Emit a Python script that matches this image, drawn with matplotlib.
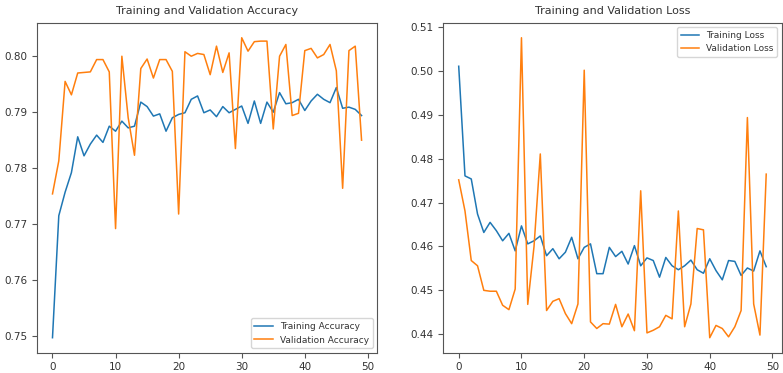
import matplotlib
matplotlib.use("Agg")
import matplotlib.pyplot as plt
import numpy as np

epochs = np.arange(50)

acc = [0.7497, 0.7715, 0.7757, 0.7792, 0.7856, 0.7822, 0.7843, 0.7859, 0.7846, 0.7875,
       0.7866, 0.7884, 0.7872, 0.7875, 0.7918, 0.7910, 0.7893, 0.7897, 0.7866, 0.7890,
       0.7896, 0.7899, 0.7923, 0.7929, 0.7899, 0.7904, 0.7892, 0.7910, 0.7899, 0.7905,
       0.7911, 0.7880, 0.7920, 0.7880, 0.7918, 0.7900, 0.7935, 0.7915, 0.7917, 0.7923,
       0.7903, 0.7920, 0.7932, 0.7923, 0.7917, 0.7944, 0.7907, 0.7909, 0.7905, 0.7894]

val_acc = [0.7754, 0.7813, 0.7955, 0.7931, 0.7970, 0.7971, 0.7972, 0.7994, 0.7994, 0.7972,
           0.7692, 0.8000, 0.7890, 0.7823, 0.7978, 0.7995, 0.7961, 0.7994, 0.7994, 0.7973,
           0.7718, 0.8008, 0.8000, 0.8005, 0.8003, 0.7967, 0.8018, 0.7971, 0.8006, 0.7835,
           0.8033, 0.8009, 0.8026, 0.8027, 0.8027, 0.7870, 0.8000, 0.8021, 0.7894, 0.7898,
           0.8010, 0.8014, 0.7997, 0.8003, 0.8021, 0.7974, 0.7764, 0.8010, 0.8018, 0.7850]

loss = [0.5011, 0.4761, 0.4754, 0.4674, 0.4632, 0.4655, 0.4636, 0.4613, 0.4630, 0.4590,
        0.4647, 0.4606, 0.4613, 0.4624, 0.4579, 0.4595, 0.4572, 0.4587, 0.4621, 0.4572,
        0.4598, 0.4606, 0.4538, 0.4538, 0.4598, 0.4577, 0.4589, 0.4560, 0.4602, 0.4556,
        0.4574, 0.4568, 0.4530, 0.4575, 0.4556, 0.4547, 0.4556, 0.4569, 0.4547, 0.4539,
        0.4572, 0.4545, 0.4524, 0.4568, 0.4566, 0.4534, 0.4551, 0.4544, 0.4590, 0.4554]

val_loss = [0.4752, 0.4681, 0.4568, 0.4556, 0.4500, 0.4498, 0.4498, 0.4466, 0.4456, 0.4503,
            0.5076, 0.4468, 0.4600, 0.4811, 0.4454, 0.4475, 0.4481, 0.4447, 0.4424, 0.4469,
            0.5002, 0.4428, 0.4413, 0.4424, 0.4423, 0.4468, 0.4417, 0.4446, 0.4408, 0.4727,
            0.4403, 0.4409, 0.4417, 0.4443, 0.4435, 0.4681, 0.4417, 0.4469, 0.4641, 0.4638,
            0.4392, 0.4420, 0.4413, 0.4394, 0.4417, 0.4454, 0.4894, 0.4469, 0.4398, 0.4765]

plt.rcParams['font.size'] = 7.5
plt.rcParams['axes.edgecolor'] = '#555555'
plt.rcParams['text.color'] = '#333333'

fig = plt.figure(figsize=(7.83, 3.73), dpi=100)
ax1 = fig.add_axes([0.0473, 0.0544, 0.4342, 0.8846])
ax2 = fig.add_axes([0.5662, 0.0544, 0.4320, 0.8846])

ax1.plot(epochs, acc, lw=1.1, label='Training Accuracy')
ax1.plot(epochs, val_acc, lw=1.1, label='Validation Accuracy')
ax1.legend(loc='lower right', fontsize=6.5)
ax1.set_title('Training and Validation Accuracy', fontsize=8)

ax2.plot(epochs, loss, lw=1.1, label='Training Loss')
ax2.plot(epochs, val_loss, lw=1.1, label='Validation Loss')
ax2.legend(loc='upper right', fontsize=6.5)
ax2.set_title('Training and Validation Loss', fontsize=8)

for ax in (ax1, ax2):
    ax.set_xticks([0, 10, 20, 30, 40, 50])
    ax.tick_params(labelsize=7.5, colors='#555555', labelcolor='#333333')

fig.savefig('out.png', dpi=100)
